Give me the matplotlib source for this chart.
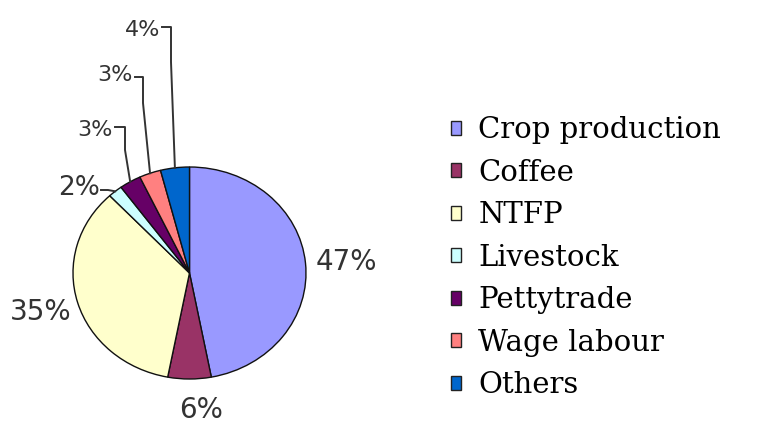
import matplotlib.pyplot as plt
from matplotlib.patches import Patch
import numpy as np

# Data
sources = ['Crop production', 'Coffee', 'NTFP', 'Livestock', 'Pettytrade', 'Wage labour', 'Others']
shares = [47, 6, 35, 2, 3, 3, 4]
colors = ['#9999FF', '#993366', '#FFFFCC', '#CCFFFF', '#660066', '#FF8080', '#0066CC']

# pie geometry in figure pixels (from top)
cx, cy, rx, ry = 189.5, 273.0, 116.5, 106.0
W, H = 761, 423

def px2d(px, py):
    return (px - cx) / rx, (cy - py) / ry

fig = plt.figure(figsize=(W / 100, H / 100), dpi=100)
ax = fig.add_axes([(cx - rx) / W, (H - cy - ry) / H, 2 * rx / W, 2 * ry / H])
wedges, _ = ax.pie(shares, colors=colors, startangle=90, counterclock=False,
                   wedgeprops=dict(edgecolor='#111111', linewidth=1.0))
ax.set_aspect('auto')
ax.set_xlim(-1, 1)
ax.set_ylim(-1, 1)

# label placement (pixels): x, y, ha, fontsize
label_pos = [(316, 262, 'left', 20), (201, 410, 'center', 20), (41, 312, 'center', 20),
             (100, 188, 'right', 19), (113, 130, 'right', 16), (133, 75, 'right', 16),
             (160, 30, 'right', 16)]
# leader lines: start point, knee x, knee y (None = no leader)
leaders = [None, None, None,
           ((101, 190), 108, 190),
           ((115, 127), 125, 150),
           ((135, 77), 143, 103),
           ((162, 27), 171, 62)]

for w, v, (lx, ly, ha, fs), ld in zip(wedges, shares, label_pos, leaders):
    tx, ty = px2d(lx, ly)
    ax.text(tx, ty, f"{v}%", ha=ha, va='center', fontsize=fs, color='#333333', clip_on=False)
    if ld is None:
        continue
    th = np.deg2rad((w.theta1 + w.theta2) / 2)
    ex, ey = np.cos(th), np.sin(th)
    (sx, sy), kx, ky = ld
    p0 = px2d(sx, sy)
    p1 = px2d(kx, sy)
    p2 = px2d(kx, ky)
    ax.plot([p0[0], p1[0], p2[0], ex], [p0[1], p1[1], p2[1], ey],
            color='#333333', lw=1.4, clip_on=False)

handles = [Patch(facecolor=c, edgecolor='#222222', linewidth=1.0) for c in colors]
fig.legend(handles, sources, loc='upper left', bbox_to_anchor=(451 / W, 1 - 116 / H),
           frameon=False, prop={'family': 'DejaVu Serif', 'size': 21},
           handlelength=0.36, handleheight=0.36, handletextpad=0.58,
           labelspacing=0.5, borderpad=0, borderaxespad=0)

fig.savefig('out.png', dpi=100, facecolor='white')
